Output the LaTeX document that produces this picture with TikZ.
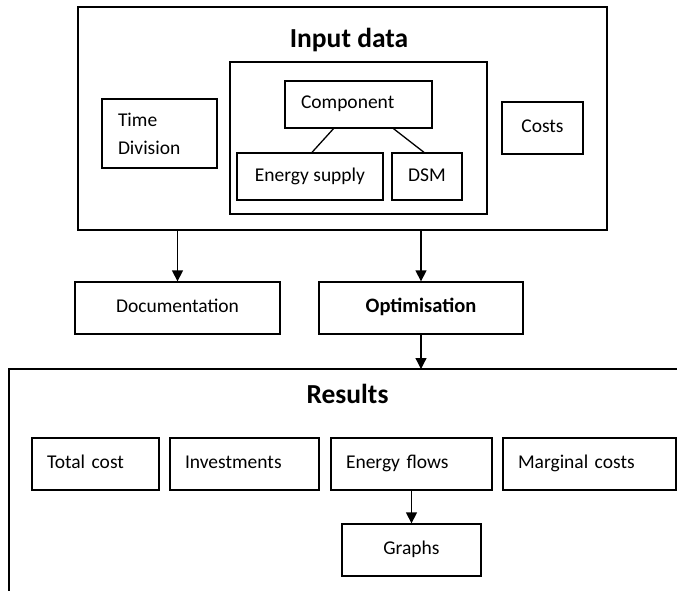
\documentclass[tikz,border=0pt]{standalone}
\usepackage{fontspec}
\setmainfont{Carlito}
\usetikzlibrary{positioning,arrows.meta}

\tikzset{
  box/.style={draw, inner sep=0pt, text height=13pt, text depth=4pt,
    font=\fontsize{19.5}{23}\selectfont},
  leftbox/.style={draw, align=left, inner xsep=15pt, inner ysep=0pt,
    minimum height=52, text width=#1, text height=13pt, text depth=4pt,
    font=\fontsize{19.5}{23}\selectfont},
  heading/.style={font=\fontsize{27.5}{32}\selectfont\bfseries, anchor=base},
  arr/.style={-{Triangle[width=11pt,length=11pt]}}
}

\begin{document}
\begin{tikzpicture}[x=1pt, y=-1pt, line width=1.3pt]
        \useasboundingbox (0,0) rectangle (677,591);
        % Input data block
        \node[draw, minimum width=529, minimum height=223] (input) at (342.5,118.5) {};
        \node[heading] (intitle) at (349,48) {Input data};
        \node[draw, minimum width=257, minimum height=152] (inner) at (358.5,138) {};
        \node[leftbox=115, inner xsep=16pt, minimum height=47] (comp) at (358.5,104.5) {Component};
        \node[box, minimum width=146, minimum height=47] (supply) at (310,176.5) {Energy supply};
        \node[box, minimum width=70, minimum height=47] (dsm) at (427,176.5) {DSM};
        \draw ([xshift=-25pt]comp.south) -- ([xshift=2pt]supply.north);
        \draw ([xshift=35pt]comp.south) -- ([xshift=-3pt]dsm.north);
        \node[draw, align=left, text width=83, inner xsep=16pt, inner ysep=0pt, minimum height=69,
          font=\fontsize{19.5}{28}\selectfont] (timediv) at (159.5,133.5) {Time\\Division};
        \node[box, minimum width=81, minimum height=52] (costs) at (542.5,128) {Costs};
        % Documentation and optimisation
        \node[box, minimum width=205, minimum height=52] (doc) at (177.5,308) {Documentation};
        \node[box, minimum width=204, minimum height=52, font=\fontsize{20.5}{24}\selectfont\bfseries] (opt) at (421,308) {Optimisation};
        \draw[arr] (input.south -| doc.north) -- (doc.north);
        \draw[arr] (input.south -| opt.north) -- (opt.north);
        % Results block (open to the right and bottom)
        \coordinate (resBL) at (9,591);
        \coordinate (resTL) at (9,369);
        \coordinate (resTR) at (677,369);
        \draw (resBL) -- (resTL) -- (resTR);
        \draw[arr] (opt.south) -- (opt.south |- resTL);
        \node[heading] (restitle) at (347.5,403) {Results};
        \node[leftbox=97] (total) at (95.5,464) {Total cost};
        \node[leftbox=119] (invest) at (244.5,464) {Investments};
        \node[leftbox=131] (flows) at (411.5,464) {Energy flows};
        \node[leftbox=143] (marginal) at (589.5,464) {Marginal costs};
        \node[box, minimum width=139, minimum height=52] (graphs) at (411.5,550) {Graphs};
        \draw[arr] (flows.south) -- (graphs.north);
    \end{tikzpicture}
\end{document}
